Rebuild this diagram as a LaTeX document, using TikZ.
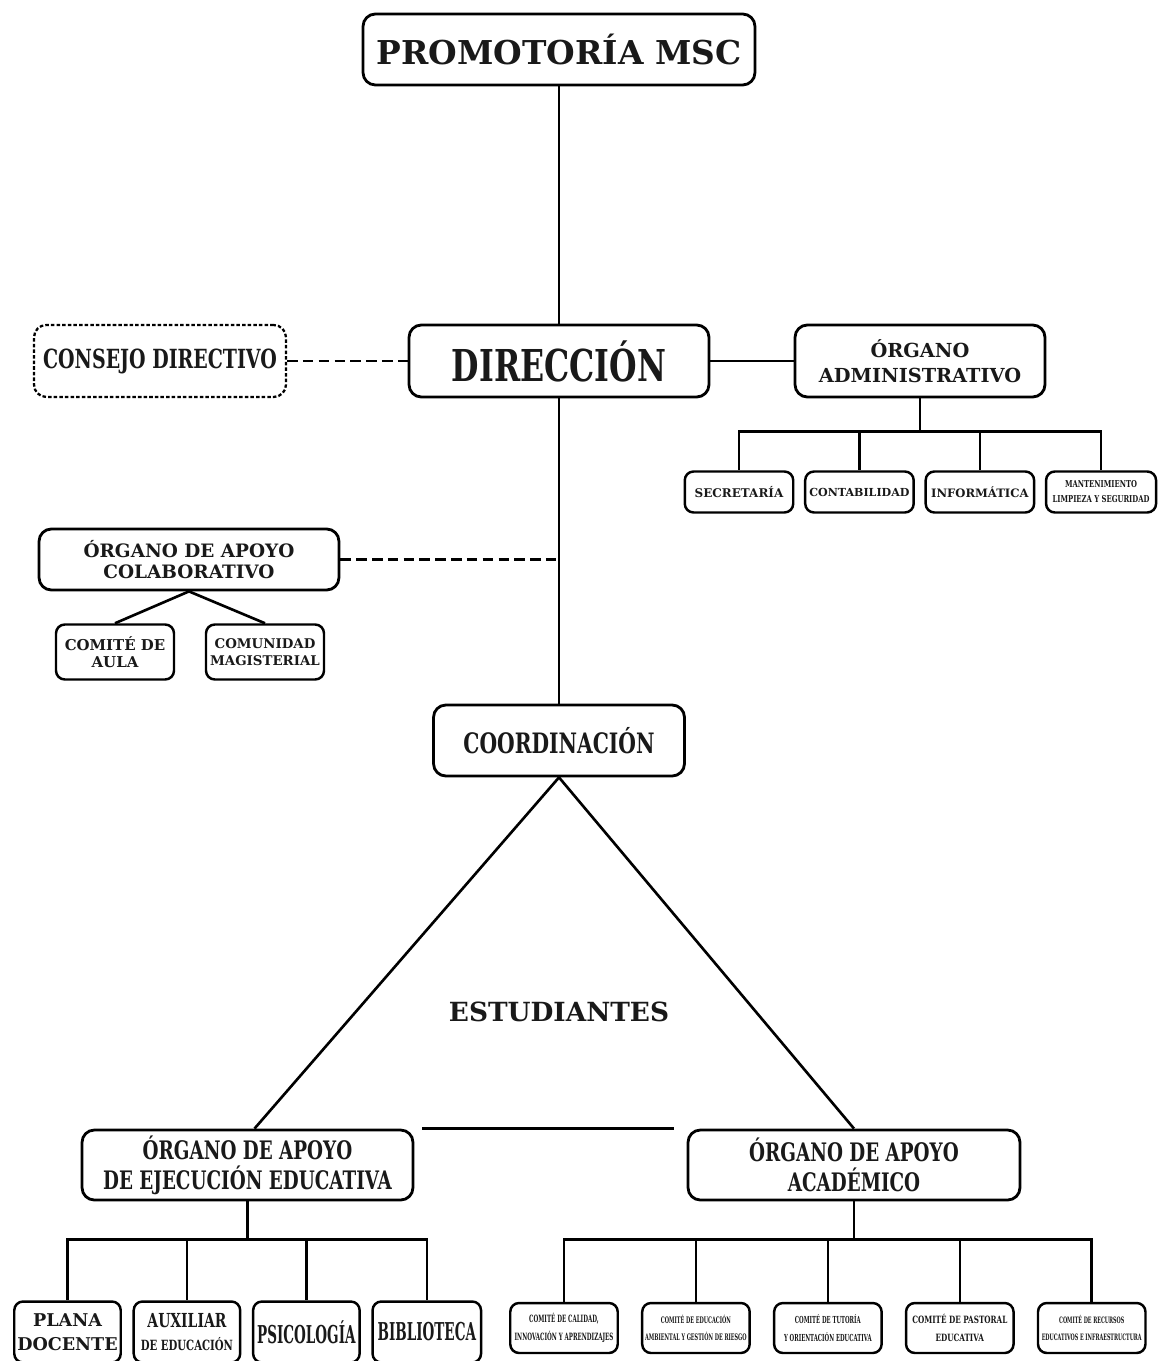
\documentclass[tikz,border=0pt]{standalone}
\usepackage{fontspec}
\setmainfont{DejaVu Serif}
\newfontfamily\narrowfont[FakeStretch=0.72]{DejaVu Serif}
\newfontfamily\thinfont[FakeStretch=0.55]{DejaVu Serif}
\usetikzlibrary{positioning}
\tikzset{orgbox/.style={draw, line width=1.6pt, rounded corners=7pt, inner sep=1pt, align=center, fill=white, text=black!90}}
\tikzset{subbox/.style={orgbox, rounded corners=5pt, line width=1.4pt}}
\tikzset{dotbox/.style={orgbox, dash pattern=on 2pt off 1.2pt, line width=1.3pt}}
\tikzset{link/.style={draw, line width=1.5pt}}
\tikzset{dlink/.style={link, dash pattern=on 6pt off 3pt}}
\tikzset{fsz/.style 2 args={font=\bfseries\fontsize{#1}{#2}\selectfont}}

\begin{document}
\begin{tikzpicture}[x=0.02cm, y=-0.02cm]
	\useasboundingbox (0,0) rectangle (1157,1361);
	% top of the chart
	\node[orgbox, fsz={18.7}{24}, minimum width=7.84cm, minimum height=1.42cm] (prom) at (559,49.5) {PROMOTORÍA MSC};
	\node[orgbox, font=\narrowfont\bfseries\fontsize{25}{28}\selectfont, minimum width=6cm, minimum height=1.44cm] (dir) at (559,361) {DIRECCIÓN};
	\node[dotbox, font=\narrowfont\bfseries\fontsize{15}{18}\selectfont, minimum width=5.04cm, minimum height=1.44cm] (cons) at (160,361) {CONSEJO DIRECTIVO};
	\node[orgbox, fsz={11}{14}, minimum width=5cm, minimum height=1.44cm] (adm) at (920,361) {ÓRGANO\\ADMINISTRATIVO};
	%
	\draw[link] (prom.south) -- (dir.north);
	\draw[dlink] (cons) -- (dir);
	\draw[link] (dir) -- (adm);
	% administrative area
	\node[subbox, fsz={6.8}{8}, minimum width=2.17cm, minimum height=0.82cm] (sec) at (739,492) {SECRETARÍA};
	\node[subbox, fsz={6.3}{8}, minimum width=2.17cm, minimum height=0.82cm, right=0.19cm of sec] (cont) {CONTABILIDAD};
	\node[subbox, fsz={6.6}{8}, minimum width=2.17cm, minimum height=0.82cm, right=0.19cm of cont] (info) {INFORMÁTICA};
	\node[subbox, font=\narrowfont\bfseries\fontsize{5.4}{8.5}\selectfont, minimum width=2.2cm, minimum height=0.82cm, right=0.19cm of info] (mant) {MANTENIMIENTO\\LIMPIEZA Y SEGURIDAD};
	\foreach \n in {sec, cont, info, mant}
		\draw[link] (adm.south) -- ++(0,33) -| (\n.north);
	% collaborative support
	\node[orgbox, fsz={10.5}{12}, minimum width=6cm, minimum height=1.22cm] (colab) at (189,559.5) {ÓRGANO DE APOYO\\COLABORATIVO};
	\node[subbox, fsz={8.5}{10}, minimum width=2.36cm, minimum height=1.1cm] (aula) at (115,652) {COMITÉ DE\\AULA};
	\node[subbox, fsz={7.6}{10}, minimum width=2.36cm, minimum height=1.1cm] (magis) at (265,652) {COMUNIDAD\\MAGISTERIAL};
	\draw[link] (colab.south) -- (aula.north);
	\draw[link] (colab.south) -- (magis.north);
	%
	\node[orgbox, font=\narrowfont\bfseries\fontsize{16}{18}\selectfont, minimum width=5.02cm, minimum height=1.42cm] (coord) at (559,740.5) {COORDINACIÓN};
	\coordinate (colabjoin) at (dir.south |- colab.east);
	\draw[link] (dir.south) -- (coord.north);
	\draw[dlink] (colab.east) -- (colabjoin);
	% students triangle
	\node[fsz={15}{18}, text=black!90] (estud) at (559,1012) {ESTUDIANTES};
	\node[orgbox, font=\narrowfont\bfseries\fontsize{14.5}{17}\selectfont, minimum width=6.62cm, minimum height=1.4cm] (ejec) at (247.5,1165) {ÓRGANO DE APOYO\\DE EJECUCIÓN EDUCATIVA};
	\node[orgbox, font=\narrowfont\bfseries\fontsize{14.5}{17}\selectfont, minimum width=6.64cm, minimum height=1.4cm] (acad) at (854,1165) {ÓRGANO DE APOYO\\ACADÉMICO};
	\draw[link] (coord.south) -- ([xshift=0.14cm]ejec.north);
	\draw[link] (coord.south) -- (acad.north);
	\draw[link, shorten <=0.16cm, shorten >=0.26cm] (ejec.north east) -- (acad.north west);
	% execution support
	\node[subbox, fsz={10}{13.6}, minimum width=2.13cm, minimum height=1.22cm] (plana) at (67.5,1332) {PLANA\\DOCENTE};
	\node[subbox, font=\narrowfont\bfseries\fontsize{11}{13.6}\selectfont, minimum width=2.13cm, minimum height=1.22cm, right=0.21cm of plana] (aux) {AUXILIAR\\{\fontsize{8}{9}\selectfont DE EDUCACIÓN}};
	\node[subbox, font=\thinfont\bfseries\fontsize{14}{16}\selectfont, minimum width=2.13cm, minimum height=1.22cm, right=0.21cm of aux] (psico) {PSICOLOGÍA};
	\node[subbox, font=\thinfont\bfseries\fontsize{14}{16}\selectfont, minimum width=2.17cm, minimum height=1.22cm, right=0.21cm of psico] (biblio) {BIBLIOTECA};
	\foreach \n in {plana, aux, psico, biblio}
		\draw[link] (ejec.south) -- ++(0,38) -| (\n.north);
	% academic support
	\node[subbox, font=\thinfont\bfseries\fontsize{5.7}{10}\selectfont, minimum width=2.15cm, minimum height=1cm] (calid) at (564,1328) {COMITÉ DE CALIDAD,\\INNOVACIÓN Y APRENDIZAJES};
	\node[subbox, font=\thinfont\bfseries\fontsize{5.1}{10}\selectfont, minimum width=2.15cm, minimum height=1cm, right=0.44cm of calid] (ambien) {COMITÉ DE EDUCACIÓN\\AMBIENTAL Y GESTIÓN DE RIESGO};
	\node[subbox, font=\thinfont\bfseries\fontsize{5.5}{10}\selectfont, minimum width=2.15cm, minimum height=1cm, right=0.44cm of ambien] (tutor) {COMITÉ DE TUTORÍA\\Y ORIENTACIÓN EDUCATIVA};
	\node[subbox, font=\narrowfont\bfseries\fontsize{5.7}{10}\selectfont, minimum width=2.15cm, minimum height=1cm, right=0.44cm of tutor] (past) {COMITÉ DE PASTORAL\\EDUCATIVA};
	\node[subbox, font=\thinfont\bfseries\fontsize{5}{10}\selectfont, minimum width=2.15cm, minimum height=1cm, right=0.44cm of past] (recur) {COMITÉ DE RECURSOS\\EDUCATIVOS E INFRAESTRUCTURA};
	\foreach \n in {calid, ambien, tutor, past, recur}
		\draw[link] (acad.south) -- ++(0,38) -| (\n.north);
\end{tikzpicture}
\end{document}
